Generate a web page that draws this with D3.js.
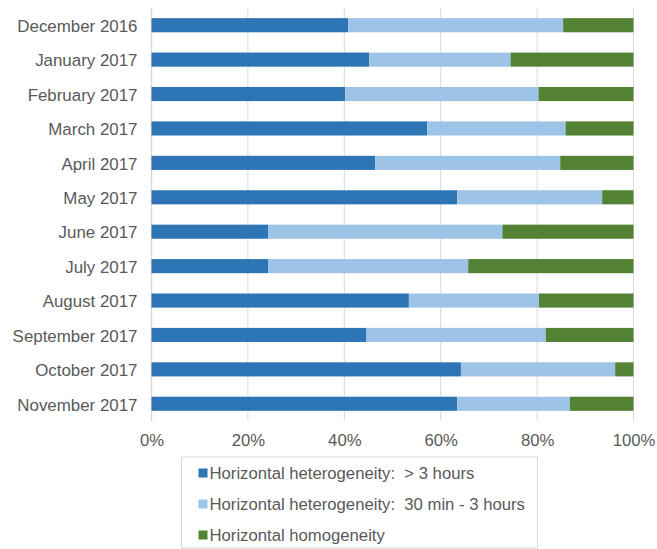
<!DOCTYPE html>
<html>
<head>
<meta charset="utf-8">
<script src="https://cdn.jsdelivr.net/npm/d3@7"></script>
<style>
    body { margin: 0; background: #fff; }
    text { font-family: "Liberation Sans", Arial, sans-serif; fill: #595959; }
</style>
</head>
<body>
<div id="chart"></div>
<script>
var months = ['December 2016', 'January 2017', 'February 2017', 'March 2017', 'April 2017', 'May 2017',
    'June 2017', 'July 2017', 'August 2017', 'September 2017', 'October 2017', 'November 2017'];

// shares in percent
var over3h = [40.8, 45.2, 40.2, 57.2, 46.4, 63.4, 24.2, 24.2, 53.4, 44.6, 64.2, 63.4];
var min30to3h = [44.6, 29.3, 40.1, 28.7, 38.4, 30.1, 48.6, 41.5, 27.0, 37.2, 32.0, 23.4];
var homogeneity = [14.6, 25.5, 19.7, 14.1, 15.2, 6.5, 27.2, 34.3, 19.6, 18.2, 3.8, 13.2];

var xTicks = [0, 20, 40, 60, 80, 100];

var seriesNames = ['Horizontal heterogeneity:  > 3 hours', 'Horizontal heterogeneity:  30 min - 3 hours', 'Horizontal homogeneity'];
var seriesColors = ['#2E75B6', '#9DC3E6', '#548235'];

var width = 657, height = 549;
var margin = { left: 151.5, right: 23.5, top: 8, bottom: 128 };
var innerW = width - margin.left - margin.right;
var innerH = height - margin.top - margin.bottom;

var rows = months.map(function (m, i) {
    return { month: m, a: over3h[i], b: min30to3h[i], c: homogeneity[i] };
});

var stack = d3.stack().keys(['a', 'b', 'c']);
var layers = stack(rows);

var x = d3.scaleLinear().domain([0, 100]).range([0, innerW]);
var y = d3.scaleBand().domain(months).range([0, innerH]).paddingInner(0.59).paddingOuter(0.295);

var svg = d3.select('#chart')
    .append('svg')
    .attr('width', width)
    .attr('height', height)
    .append('g')
    .attr('transform', 'translate(' + margin.left + ',' + margin.top + ')');

// gridlines
svg.append('g')
    .selectAll('line')
    .data(xTicks)
    .enter()
    .append('line')
    .attr('x1', function (d) { return x(d); })
    .attr('x2', function (d) { return x(d); })
    .attr('y1', 0)
    .attr('y2', innerH)
    .attr('stroke', '#d9d9d9')
    .attr('stroke-width', function (d) { return d === 0 ? 1.5 : 1; });

// bars
svg.append('g')
    .selectAll('g')
    .data(layers)
    .enter()
    .append('g')
    .attr('fill', function (d, i) { return seriesColors[i]; })
    .selectAll('rect')
    .data(function (d) { return d; })
    .enter()
    .append('rect')
    .attr('x', function (d) { return x(d[0]); })
    .attr('width', function (d) { return x(d[1]) - x(d[0]); })
    .attr('y', function (d) { return y(d.data.month); })
    .attr('height', y.bandwidth());

// x axis labels
var xAxis = d3.axisBottom(x)
    .tickValues(xTicks)
    .tickSize(0)
    .tickPadding(0)
    .tickFormat(function (d) { return d + '%'; });

var gx = svg.append('g')
    .attr('class', 'x axis')
    .attr('transform', 'translate(0,' + (innerH + 13) + ')')
    .call(xAxis);
gx.select('.domain').remove();
gx.selectAll('text').style('font-size', '16.7px').attr('fill', '#595959');

// y axis labels
var yAxis = d3.axisLeft(y).tickSize(0).tickPadding(14);
var gy = svg.append('g')
    .attr('class', 'y axis')
    .call(yAxis);
gy.select('.domain').remove();
gy.selectAll('text').style('font-size', '16.9px').attr('fill', '#595959').attr('dy', '0.4em');

// legend
var legend = d3.select('svg')
    .append('g')
    .attr('transform', 'translate(181.5,457)');

legend.append('rect')
    .attr('width', 356)
    .attr('height', 91)
    .attr('fill', '#fff')
    .attr('stroke', '#d9d9d9');

var item = legend.selectAll('.item')
    .data(seriesNames)
    .enter()
    .append('g')
    .attr('class', 'item')
    .attr('transform', function (d, i) { return 'translate(17,' + (16 + i * 31) + ')'; });

item.append('rect')
    .attr('x', 0)
    .attr('y', -4.5)
    .attr('width', 9)
    .attr('height', 9)
    .attr('fill', function (d, i) { return seriesColors[i]; });

item.append('text')
    .attr('x', 11)
    .attr('dy', '0.35em')
    .style('font-size', '16.7px')
    .style('white-space', 'pre')
    .text(function (d) { return d; });
</script>
</body>
</html>
